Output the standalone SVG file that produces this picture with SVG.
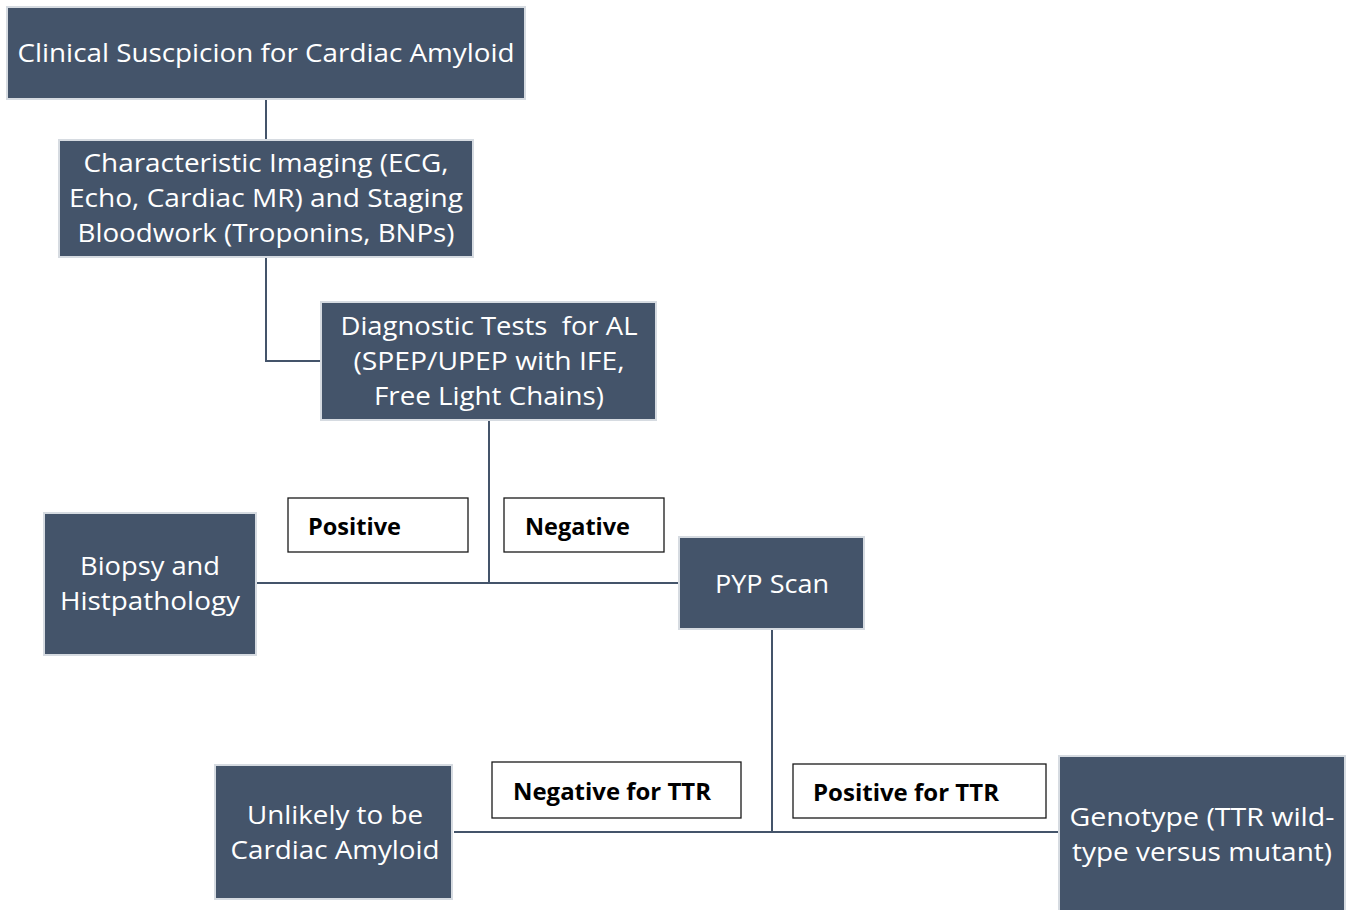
<svg xmlns="http://www.w3.org/2000/svg" width="1351" height="910" viewBox="0 0 1351 910">
<style>
.node{fill:#44546a;stroke:#d6dbe1;stroke-width:2}
.nt{font-family:"Open Sans",Lato,sans-serif;font-size:26px;fill:#ffffff;text-anchor:middle}
.lab{fill:#ffffff;stroke:#1a1a1a;stroke-width:1.3}
.lt{font-family:"Open Sans",Lato,sans-serif;font-size:23px;font-weight:bold;fill:#000000}
.conn{fill:none;stroke:#44546a;stroke-width:2}
</style>
<rect width="1351" height="910" fill="#ffffff"/>
<g id="connectors">
<path class="conn" d="M266 99V140"/>
<path class="conn" d="M266 257V361H321"/>
<path class="conn" d="M489 420V583"/>
<path class="conn" d="M257 583H679"/>
<path class="conn" d="M772 629V832"/>
<path class="conn" d="M454 832H1059"/>
</g>
<g id="n1">
<rect class="node" x="7" y="7" width="518" height="92"/>
<text class="nt" x="266" y="62" textLength="497" lengthAdjust="spacingAndGlyphs">Clinical Suscpicion for Cardiac Amyloid</text>
</g>
<g id="n2">
<rect class="node" x="59" y="140" width="414" height="117"/>
<text class="nt" x="266" y="172" textLength="365" lengthAdjust="spacingAndGlyphs">Characteristic Imaging (ECG,</text>
<text class="nt" x="266" y="207" textLength="394" lengthAdjust="spacingAndGlyphs">Echo, Cardiac MR) and Staging</text>
<text class="nt" x="266" y="242" textLength="377" lengthAdjust="spacingAndGlyphs">Bloodwork (Troponins, BNPs)</text>
</g>
<g id="n3">
<rect class="node" x="321" y="302" width="335" height="118"/>
<text class="nt" x="489" y="335" textLength="297" lengthAdjust="spacingAndGlyphs" xml:space="preserve">Diagnostic Tests  for AL</text>
<text class="nt" x="489" y="370" textLength="271" lengthAdjust="spacingAndGlyphs">(SPEP/UPEP with IFE,</text>
<text class="nt" x="489" y="405" textLength="230" lengthAdjust="spacingAndGlyphs">Free Light Chains)</text>
</g>
<g id="n4">
<rect class="node" x="44" y="513" width="212" height="142"/>
<text class="nt" x="150" y="575" textLength="140" lengthAdjust="spacingAndGlyphs">Biopsy and</text>
<text class="nt" x="150" y="610" textLength="180" lengthAdjust="spacingAndGlyphs">Histpathology</text>
</g>
<g id="n5">
<rect class="node" x="679" y="537" width="185" height="92"/>
<text class="nt" x="772" y="593" textLength="114" lengthAdjust="spacingAndGlyphs">PYP Scan</text>
</g>
<g id="n6">
<rect class="node" x="215" y="765" width="237" height="134"/>
<text class="nt" x="335" y="824" textLength="176" lengthAdjust="spacingAndGlyphs">Unlikely to be</text>
<text class="nt" x="335" y="859" textLength="209" lengthAdjust="spacingAndGlyphs">Cardiac Amyloid</text>
</g>
<g id="n7">
<rect class="node" x="1059" y="756" width="286" height="160"/>
<text class="nt" x="1202" y="826" textLength="265" lengthAdjust="spacingAndGlyphs">Genotype (TTR wild-</text>
<text class="nt" x="1202" y="861" textLength="260" lengthAdjust="spacingAndGlyphs">type versus mutant)</text>
</g>
<g id="l1">
<rect class="lab" x="288" y="498" width="180" height="54"/>
<text class="lt" x="308" y="535" textLength="93" lengthAdjust="spacingAndGlyphs">Positive</text>
</g>
<g id="l2">
<rect class="lab" x="504" y="498" width="160" height="54"/>
<text class="lt" x="525" y="535" textLength="105" lengthAdjust="spacingAndGlyphs">Negative</text>
</g>
<g id="l3">
<rect class="lab" x="492" y="762" width="249" height="56"/>
<text class="lt" x="513" y="800" textLength="198" lengthAdjust="spacingAndGlyphs">Negative for TTR</text>
</g>
<g id="l4">
<rect class="lab" x="793" y="764" width="253" height="54"/>
<text class="lt" x="813" y="801" textLength="186" lengthAdjust="spacingAndGlyphs">Positive for TTR</text>
</g>
</svg>
